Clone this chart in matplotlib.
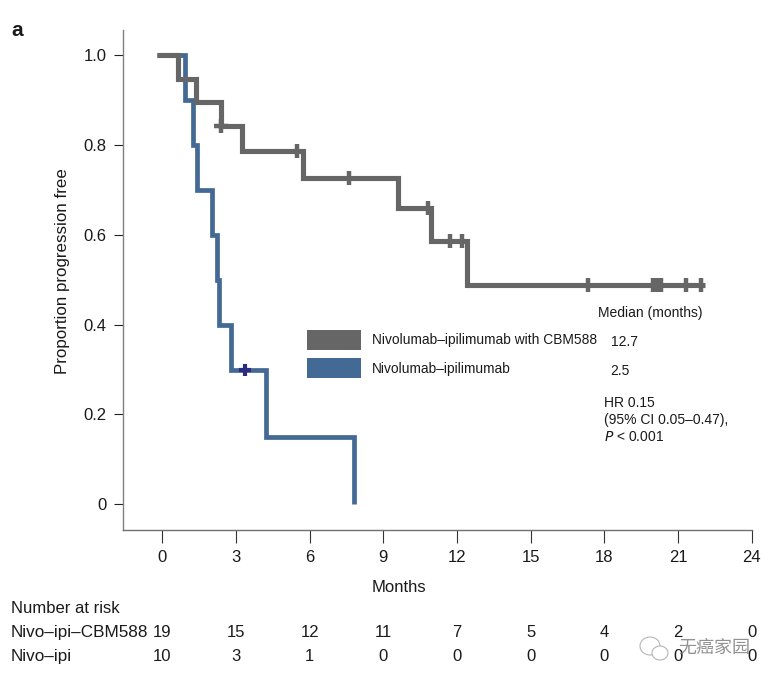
import numpy as np
import matplotlib
matplotlib.use('Agg')
import matplotlib.pyplot as plt
from matplotlib.patches import Rectangle, Ellipse

plt.rcParams['font.family'] = ['Liberation Sans', 'DejaVu Sans']
plt.rcParams['text.color'] = '#1a1a1a'
plt.rcParams['axes.labelcolor'] = '#1a1a1a'
plt.rcParams['xtick.labelcolor'] = '#1a1a1a'
plt.rcParams['ytick.labelcolor'] = '#1a1a1a'

W, H = 777, 682
GRAY = '#666666'
BLUE = '#436a94'

# step curves: time of each step and the level from there on
gray_t = [-0.2, 0.63, 1.37, 2.38, 3.23, 5.73, 9.61, 10.93, 12.42, 22.1]
gray_s = [1.0, 0.947, 0.895, 0.842, 0.786, 0.726, 0.659, 0.586, 0.488, 0.488]
blue_t = [-0.2, 0.92, 1.24, 1.43, 2.01, 2.24, 2.3, 2.78, 4.21, 7.82, 7.82]
blue_s = [1.0, 0.9, 0.8, 0.7, 0.6, 0.5, 0.4, 0.3, 0.15, 0.15, 0.0]

gray_censor = [5.5, 7.6, 10.83, 11.73, 12.19, 17.32, 20.0, 20.1, 20.2, 20.3, 21.32, 21.92]
gray_censor_plus = [2.38]
blue_censor = [3.38]

xticks = [0, 3, 6, 9, 12, 15, 18, 21, 24]
yticks = [0, 0.2, 0.4, 0.6, 0.8, 1.0]
ylabels = ['0', '0.2', '0.4', '0.6', '0.8', '1.0']
risk_gray = [19, 15, 12, 11, 7, 5, 4, 2, 0]
risk_blue = [10, 3, 1, 0, 0, 0, 0, 0, 0]


def level(t, times, values):
    # value of the step curve at time t
    i = np.searchsorted(times, t, side='right') - 1
    return values[i]


fig = plt.figure(figsize=(W / 100, H / 100), dpi=100)
left, right, top, bottom = 122.7, 751.7, 30, 529.5
ax = fig.add_axes([left / W, 1 - bottom / H, (right - left) / W, (bottom - top) / H])
ax.set_xlim((left - 162.3) / 24.56, 24)
ax.set_ylim((504.3 - bottom) / 449.3, (504.3 - top) / 449.3)

ax.step(blue_t, blue_s, where='post', color=BLUE, lw=3.4, solid_joinstyle='miter', solid_capstyle='butt')
ax.step(gray_t, gray_s, where='post', color=GRAY, lw=3.7, solid_joinstyle='miter', solid_capstyle='butt')

ax.plot(gray_censor, [level(t, gray_t, gray_s) for t in gray_censor], ls='none',
        marker='|', ms=10.5, mew=3.2, color=GRAY)
ax.plot(gray_censor_plus, [level(t, gray_t, gray_s) for t in gray_censor_plus], ls='none',
        marker='+', ms=10.5, mew=3.2, color=GRAY)
ax.plot(blue_censor, [level(t, blue_t, blue_s) for t in blue_censor], ls='none',
        marker='+', ms=8, mew=3.0, color='#2b2b80')

ax.spines['top'].set_visible(False)
ax.spines['right'].set_visible(False)
ax.spines['left'].set_color('#808080')
ax.spines['bottom'].set_color('#707070')
ax.spines['left'].set_linewidth(1.0)
ax.spines['bottom'].set_linewidth(1.0)

ax.set_xticks(xticks)
ax.set_yticks(yticks)
ax.set_yticklabels(ylabels)
ax.tick_params(axis='x', length=9, width=0.8, color='#333333', pad=6, labelsize=12)
ax.tick_params(axis='y', length=6.5, width=0.8, color='#222222', pad=5, labelsize=12)
ax.set_ylabel('Proportion progression free', fontsize=12.2, labelpad=10, y=0.5165)


def put(x, y, s, **kw):
    # text placed in image pixels
    kw.setdefault('fontsize', 12)
    kw.setdefault('va', 'center')
    return fig.text(x / W, 1 - y / H, s, **kw)


put(11, 30, 'a', fontsize=15, fontweight='bold')
put(399, 587, 'Months', ha='center')

# legend boxes and the notes beside them
for y0, col in zip([330, 358], [GRAY, BLUE]):
    fig.add_artist(Rectangle((307 / W, 1 - (y0 + 20) / H), 54 / W, 20 / H, transform=fig.transFigure,
                             facecolor=col, edgecolor='none'))
put(372, 340, 'Nivolumab–ipilimumab with CBM588', fontsize=9.9)
put(372, 369, 'Nivolumab–ipilimumab', fontsize=9.9)
put(598, 313.5, 'Median (months)', fontsize=10)
put(611, 342.5, '12.7', fontsize=10)
put(610, 371, '2.5', fontsize=10)
put(604, 403, 'HR 0.15', fontsize=10)
put(604, 420, '(95% CI 0.05–0.47),', fontsize=10)
put(604, 437, r'$\mathit{P}$ < 0.001', fontsize=10, math_fontfamily='dejavusans')

# number at risk table
put(11, 608.5, 'Number at risk')
put(11, 632.5, 'Nivo–ipi–CBM588', fontsize=12.3)
put(11, 656.5, 'Nivo–ipi', fontsize=12.3)
for t, a, b in zip(xticks, risk_gray, risk_blue):
    x = 162.3 + t * 24.56
    put(x, 632.5, str(a), ha='center')
    put(x, 656.5, str(b), ha='center')

# watermark over the bottom right corner
fig.add_artist(Ellipse((650 / W, 1 - 646 / H), 20 / W, 18 / H, transform=fig.transFigure,
                       facecolor='none', edgecolor='#b5b5b5', lw=0.8))
fig.add_artist(Ellipse((660 / W, 1 - 653 / H), 16 / W, 14 / H, transform=fig.transFigure,
                       facecolor='white', edgecolor='#b5b5b5', lw=0.8))
put(714, 648, '无癌家园', fontsize=13, ha='center', color='#777777', alpha=0.8,
    family=['Noto Sans CJK SC', 'DejaVu Sans'])

fig.savefig('out.png', dpi=100, facecolor='white')
